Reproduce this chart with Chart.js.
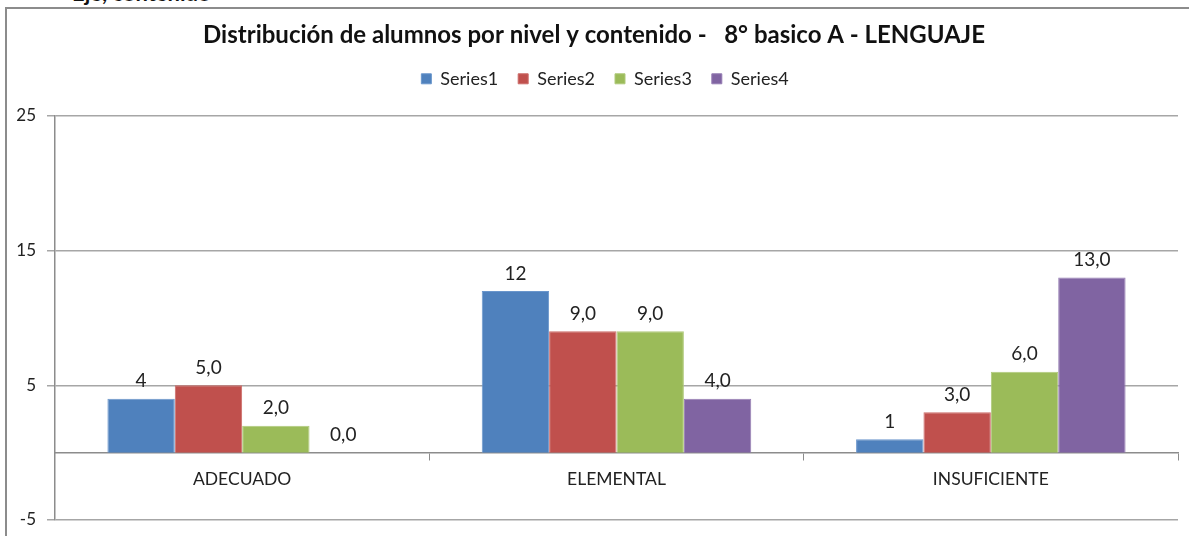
<!DOCTYPE html>
<html>
<head>
<meta charset="utf-8">
<script src="https://cdn.jsdelivr.net/npm/chart.js@4.4.1/dist/chart.umd.min.js"></script>
<style>
  body { margin: 0; background: #fff; }
  #wrap { position: relative; width: 1189px; height: 536px; overflow: hidden; }
  #frame { position: absolute; left: 5px; top: 7px; width: 1300px; height: 700px;
           border-left: 2px solid #8c8c8c; border-top: 2px solid #8c8c8c; }
  #cut { position: absolute; left: 72px; top: -21px; font: bold 22px Lato, sans-serif; color: #111; }
  canvas { position: absolute; left: 0; top: 0; }
</style>
</head>
<body>
<div id="wrap">
  <div id="cut">Eje, contenido</div>
  <div id="frame"></div>
  <canvas id="myChart" width="1189" height="536"></canvas>
</div>
<script>
const categories = ['ADECUADO', 'ELEMENTAL', 'INSUFICIENTE'];
const series1 = [4, 12, 1];
const series2 = [5, 9, 3];
const series3 = [2, 9, 6];
const series4 = [0, 4, 13];
const yTicks = [-5, 5, 15, 25];

const colors = ['#4F81BD', '#C0504D', '#9BBB59', '#8064A2'];
const borders = ['#6a96cc', '#cc6b68', '#afc97a', '#957cb3'];

// value labels above each bar
const barLabels = {
    id: 'barLabels',
    afterDatasetsDraw(chart) {
        const c = chart.ctx;
        c.save();
        c.font = '19px Lato, sans-serif';
        c.fillStyle = '#222';
        c.textAlign = 'center';
        c.textBaseline = 'bottom';
        chart.data.datasets.forEach((ds, i) => {
            chart.getDatasetMeta(i).data.forEach((bar, j) => {
                const v = ds.data[j];
                const txt = i === 0 ? String(v) : v.toFixed(1).replace('.', ',');
                c.fillText(txt, bar.x, bar.y - 8);
            });
        });
        c.restore();
    }
};

// extra room under the legend, and nudge title/legend a bit to the right
const tweaks = {
    id: 'tweaks',
    beforeInit(chart) {
        const fit = chart.legend.fit;
        chart.legend.fit = function () {
            fit.call(this);
            this.height += 18;
        };
    },
    afterLayout(chart) {
        chart.legend.left += 32;
        chart.titleBlock.left += 10;
    }
};

const ctx = document.getElementById('myChart');

new Chart(ctx, {
    type: 'bar',
    data: {
        labels: categories,
        datasets: [series1, series2, series3, series4].map((d, i) => ({
            label: 'Series' + (i + 1),
            data: d,
            backgroundColor: colors[i],
            borderColor: borders[i],
            borderWidth: 1,
            barPercentage: 1.0,
            categoryPercentage: 0.72
        }))
    },
    options: {
        responsive: false,
        animation: false,
        layout: { padding: { left: 0, right: 11, top: 0, bottom: 16 } },
        plugins: {
            title: {
                display: true,
                text: 'Distribución de alumnos por nivel y contenido -   8° basico A - LENGUAJE',
                font: { family: 'Lato', size: 24, weight: 'bold' },
                color: '#111',
                padding: { top: 21, bottom: 0 }
            },
            legend: {
                labels: {
                    font: { family: 'Lato', size: 18 },
                    color: '#222',
                    boxWidth: 10,
                    boxHeight: 10,
                    padding: 20
                }
            },
            tooltip: { enabled: false }
        },
        scales: {
            x: {
                position: { y: 0 },
                offset: true,
                afterFit: s => { s.paddingTop = 0; s.paddingBottom = 0; },
                grid: { drawOnChartArea: false, offset: true, tickLength: 7, color: '#8c8c8c' },
                border: { color: '#8c8c8c', width: 1.5 },
                ticks: { font: { family: 'Lato', size: 17.5 }, color: '#222', padding: 9, maxRotation: 0 }
            },
            y: {
                min: -5,
                max: 25,
                afterBuildTicks: s => { s.ticks = yTicks.map(v => ({ value: v })); },
                afterFit: s => { s.width = 55; s.paddingBottom = 0; },
                grid: { color: '#a6a6a6', lineWidth: 1.5, tickLength: 8 },
                border: { color: '#8c8c8c', width: 1.5 },
                ticks: { font: { family: 'Lato', size: 17 }, color: '#222', padding: 11 }
            }
        }
    },
    plugins: [barLabels, tweaks]
});
</script>
</body>
</html>
